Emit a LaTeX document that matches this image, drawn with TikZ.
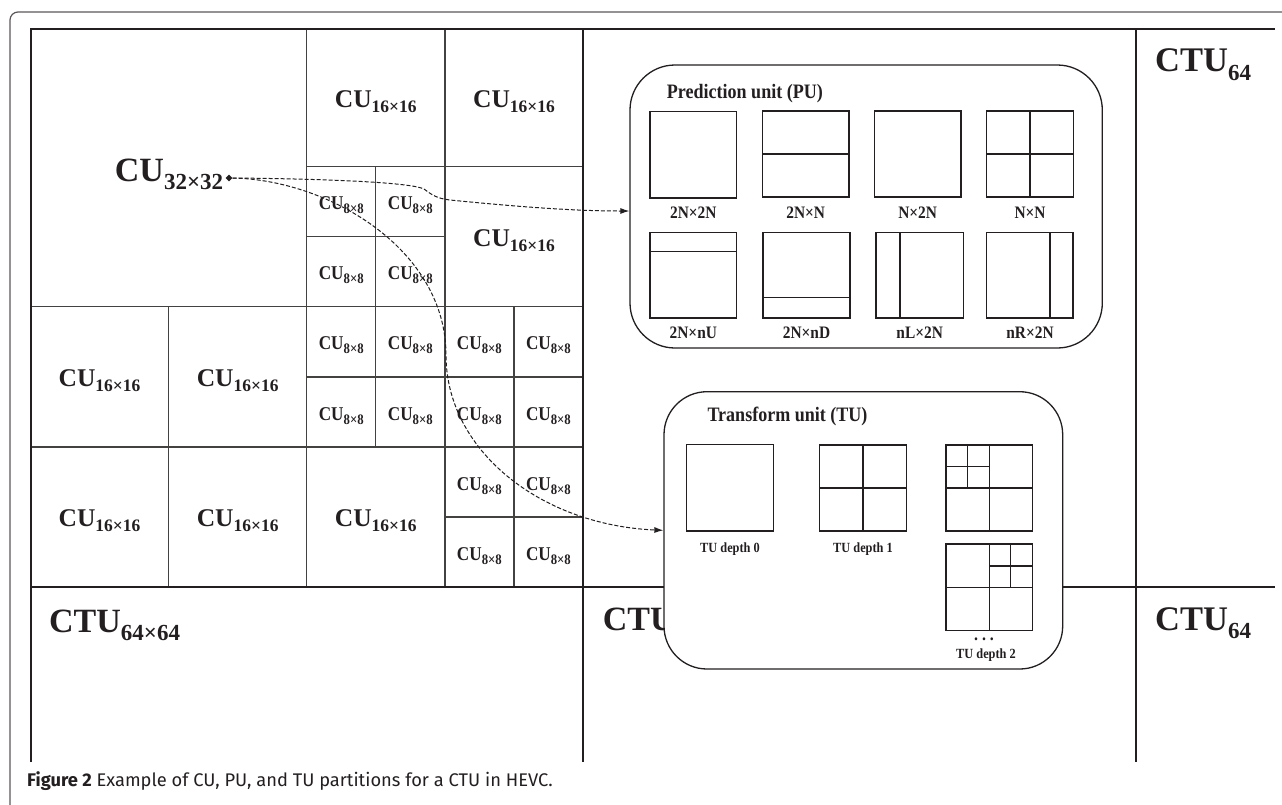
\documentclass[tikz,border=0pt]{standalone}
\usepackage{fontspec}
\setmainfont{Liberation Serif}
\newfontfamily\tbc[FakeStretch=0.88]{Liberation Serif}
\newfontfamily\capfont{Fira Sans}
\usetikzlibrary{arrows.meta,shapes.geometric}
\definecolor{ink}{HTML}{231F20}
\newcommand{\cul}[5]{{\fontsize{#1}{#1}\selectfont #4}\raisebox{-#3pt}{\fontsize{#2}{#2}\selectfont #5}}
\begin{document}
\begin{tikzpicture}[x=1pt,y=-1pt,
  ctu/.style={line width=2pt, draw=ink},
  cu/.style={line width=1.3pt, draw=ink!85},
  lbl/.style={anchor=base, inner sep=0pt, text=ink, font=\bfseries},
  lblw/.style={anchor=base west, inner sep=0pt, text=ink, font=\bfseries},
  unitbox/.style={draw=ink, line width=1.3pt, fill=white, inner sep=0pt},
  part/.style={draw=ink, line width=1.3pt},
  flow/.style={draw=ink, line width=1pt, dash pattern=on 4pt off 2pt, -{Latex[length=9pt,width=6pt]}},
  frame/.style={draw=ink!75, line width=1.2pt}]
\useasboundingbox (0,0) rectangle (1282,804);
% outer frame
\draw[frame, rounded corners=8pt] (10,806) -- (10,12) -- (1284,12);
% CU16 cells
\foreach \xa/\ya/\xb/\yb in {306.7/29/444.9/166.7, 444.9/29/583/166.7, 444.9/166.7/583/306.7,
  30.5/306.7/168.6/447, 168.6/306.7/306.7/447, 30.5/447/168.6/587, 168.6/447/306.7/587, 306.7/447/444.9/587}
  \draw[cu] (\xa,\ya) rectangle (\xb,\yb);
% CU8 cells
\foreach \xa/\ya in {306.7/166.7, 375.8/166.7, 306.7/236.7, 375.8/236.7,
  306.7/306.7, 375.8/306.7, 444.9/306.7, 513.9/306.7,
  306.7/377, 375.8/377, 444.9/377, 513.9/377,
  444.9/447, 513.9/447, 444.9/517, 513.9/517}
  \draw[cu] (\xa,\ya) rectangle ++(69.1,70);
% CTU borders
\draw[ctu] (30.5,762) -- (30.5,29) -- (1275,29);
\draw[ctu] (30.5,587) -- (1275,587);
\draw[ctu] (583,29) -- (583,762);
\draw[ctu] (1136,29) -- (1136,762);
% labels
\node[lbl] (l32) at (169,181.7) {\cul{34}{23}{7.6}{CU}{32×32}};
\foreach \cx/\by [count=\i] in {375.8/107.3, 514/107.3, 514/246.2, 99.55/386.4, 237.65/386.4, 99.55/526.5, 237.65/526.5, 375.8/526.5}
  \node[lbl] (s\i) at (\cx,\by) {\cul{25.5}{17.5}{5}{CU}{16×16}};
\foreach \cx/\by [count=\i] in {341.25/209.7, 410.35/209.7, 341.25/279.7, 410.35/279.7,
  341.25/349.85, 410.35/349.85, 479.4/349.85, 548.45/349.85,
  341.25/420, 410.35/420, 479.4/420, 548.45/420,
  479.4/490, 548.45/490, 479.4/560, 548.45/560}
  \node[lbl] (e\i) at (\cx,\by) {\tbc\cul{19.5}{14.5}{4}{CU}{8×8}};
\node[lblw] (ctuA) at (49,632.3) {\cul{34}{23}{7.7}{CTU}{64×64}};
\node[lblw] (ctuB) at (1155,71.7) {\cul{34.5}{23}{8.3}{CTU}{64}};
\node[lblw] (ctuC) at (1155,630.5) {\cul{34.5}{23}{8.3}{CTU}{64}};
\node[lblw] (ctuD) at (602.7,630.7) {\cul{34}{23}{8}{CTU}{}};
% PU box
\node[unitbox, rounded corners=45pt, minimum width=472.3pt, minimum height=283pt] (pu) at (866.15,206.5) {};
\node[lblw, font=\bfseries\tbc\fontsize{20.5}{20.5}\selectfont] (put) at (666.7,98) {Prediction unit (PU)};
\draw[part] (650,111.7) rectangle (736.7,198);
\draw[part] (762.3,111) rectangle (849,197) (762.3,154) -- (849,154);
\draw[part] (874.3,111) rectangle (961,197);
\draw[part] (986.7,111) rectangle (1073.3,197) (986.7,154) -- (1073.3,154) (1030,111) -- (1030,197);
\draw[part] (650,232.3) rectangle (736.7,318) (650,251.3) -- (736.7,251.3);
\draw[part] (763,232.3) rectangle (850,318) (763,297.7) -- (850,297.7);
\draw[part] (876,232.3) rectangle (963.3,318) (900,232.3) -- (900,318);
\draw[part] (986.7,232.3) rectangle (1073,318) (1050,232.3) -- (1050,318);
\foreach \cx/\by/\t [count=\i] in {693.3/218.3/2N×2N, 805.7/218.3/2N×N, 917.7/218.3/N×2N, 1030/218.3/N×N,
  693.3/338/2N×nU, 806.5/338/2N×nD, 919.7/338/nL×2N, 1030/338/nR×2N}
  \node[lbl, font=\bfseries\tbc\fontsize{17.5}{17.5}\selectfont] (p\i) at (\cx,\by) {\t};
% TU box
\node[unitbox, rounded corners=43pt, minimum width=398.7pt, minimum height=277.3pt] (tu) at (863.35,530.35) {};
\node[lblw, font=\bfseries\tbc\fontsize{20.5}{20.5}\selectfont] (tut) at (707.3,421.7) {Transform unit (TU)};
\draw[part] (686.7,444.3) rectangle (773.3,531);
\draw[part] (819.3,445) rectangle (906.7,531) (863,445) -- (863,531) (819.3,488) -- (906.7,488);
\draw[part] (946,445) rectangle (1032.7,531) (989.3,445) -- (989.3,531) (946,488) -- (1032.7,488)
  (967.7,445) -- (967.7,488) (946,466.7) -- (989.3,466.7);
\draw[part] (946,544) rectangle (1032.7,630.7) (989.3,544) -- (989.3,630.7) (946,587.3) -- (1032.7,587.3)
  (1010.7,544) -- (1010.7,587.3) (989.3,566) -- (1032.7,566);
\node[lbl, font=\bfseries\tbc\fontsize{14}{14}\selectfont] (t0) at (730,552.3) {TU depth 0};
\node[lbl, font=\bfseries\tbc\fontsize{14}{14}\selectfont] (t1) at (863,552.3) {TU depth 1};
\node[lbl, font=\bfseries\tbc\fontsize{18}{18}\selectfont] (dots) at (984,640) {.\hspace{4pt}.\hspace{4pt}.};
\node[lbl, font=\bfseries\tbc\fontsize{14}{14}\selectfont] (t2) at (986,658.3) {TU depth 2};
% diamond and connectors
\node[diamond, fill=ink, inner sep=0pt, minimum size=7pt] (dia) at (229,178) {};
\draw[flow] (dia.east) .. controls (340,179) and (412,183) .. (424,189)
  .. controls (432,195) and (437,198.5) .. (450,200)
  .. controls (530,208) and (580,211) .. ([yshift=-4.5pt]pu.west);
\draw[flow] (dia.east) .. controls (330,180) and (446,250) .. (446,355)
  .. controls (446,450) and (540,525) .. (tu.west);
% caption
\node[anchor=base west, inner sep=0pt, text=ink, font=\capfont\mdseries\fontsize{18.3}{18.3}\selectfont] (cap) at (27,786)
  {{\bfseries Figure 2} Example of CU, PU, and TU partitions for a CTU in HEVC.};
\end{tikzpicture}
\end{document}
